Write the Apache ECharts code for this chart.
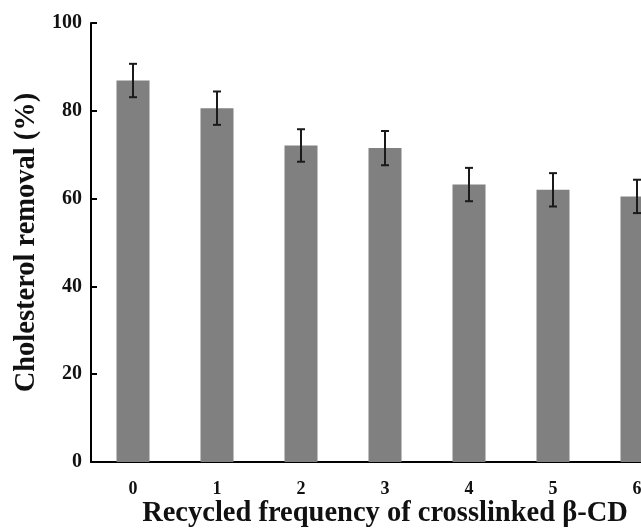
<!DOCTYPE html>
<html>
<head>
<meta charset="utf-8">
<script src="https://cdn.jsdelivr.net/npm/echarts@6/dist/echarts.min.js"></script>
<style>
    html, body { margin: 0; padding: 0; background: #fff; }
    #chart_Recycle { width: 641px; height: 530px; }
</style>
</head>
<body>
<div id="chart_Recycle"></div>
<script>
// recycle counts
var cycles = ['0', '1', '2', '3', '4', '5', '6'];
// cholesterol removal (%)
var removal = [86.9, 80.6, 72.1, 71.5, 63.2, 62.0, 60.5];
// error (+/-)
var errs = [3.8, 3.8, 3.7, 3.9, 3.8, 3.8, 3.8];
var yTicks = [0, 20, 40, 60, 80, 100];

var chart_Recycle = echarts.init(document.getElementById('chart_Recycle'));

var errData = [];
for (var i = 0; i < cycles.length; i++) {
    errData.push([i, removal[i] - errs[i], removal[i] + errs[i]]);
}

var fontFam = '"Liberation Serif", "Times New Roman", serif';

var option = {
    animation: false,
    grid: {
        left: 91,
        top: 23,
        width: 588,   // last bar runs past the right edge, as in the figure
        height: 439,
        containLabel: false,
        outerBoundsMode: 'none'
    },
    xAxis: {
        type: 'category',
        data: cycles,
        name: 'Recycled frequency of crosslinked β-CD',
        nameLocation: 'middle',
        nameGap: 37,
        nameMoveOverlap: false,
        nameTextStyle: { fontFamily: fontFam, fontWeight: 'bold', fontSize: 28.5, color: '#111' },
        axisLine: { lineStyle: { color: '#000', width: 2 } },
        axisTick: { show: false },
        axisLabel: { fontFamily: fontFam, fontWeight: 'bold', fontSize: 18, color: '#111', margin: 18 }
    },
    yAxis: {
        type: 'value',
        min: yTicks[0],
        max: yTicks[yTicks.length - 1],
        interval: 20,
        name: 'Cholesterol removal (%)',
        nameLocation: 'middle',
        nameGap: 50,
        nameMoveOverlap: false,
        nameTextStyle: { fontFamily: fontFam, fontWeight: 'bold', fontSize: 28.5, color: '#111' },
        axisLine: { show: true, lineStyle: { color: '#000', width: 2 } },
        axisTick: { show: true, inside: true, length: 6, lineStyle: { color: '#000', width: 2 } },
        splitLine: { show: false },
        axisLabel: { fontFamily: fontFam, fontWeight: 'bold', fontSize: 20, color: '#111', margin: 9 }
    },
    series: [
        {
            type: 'bar',
            data: removal,
            barWidth: 33,
            itemStyle: { color: '#808080' }
        },
        {
            type: 'custom',
            data: errData,
            z: 5,
            renderItem: function (params, api) {
                var x = api.value(0);
                var lo = api.coord([x, api.value(1)]);
                var hi = api.coord([x, api.value(2)]);
                var cap = 4;
                var st = { stroke: '#1a1a1a', lineWidth: 2 };
                return {
                    type: 'group',
                    children: [
                        { type: 'line', shape: { x1: hi[0], y1: hi[1], x2: lo[0], y2: lo[1] }, style: st },
                        { type: 'line', shape: { x1: hi[0] - cap, y1: hi[1], x2: hi[0] + cap, y2: hi[1] }, style: st },
                        { type: 'line', shape: { x1: lo[0] - cap, y1: lo[1], x2: lo[0] + cap, y2: lo[1] }, style: st }
                    ]
                };
            }
        }
    ]
};

chart_Recycle.setOption(option);
</script>
</body>
</html>
